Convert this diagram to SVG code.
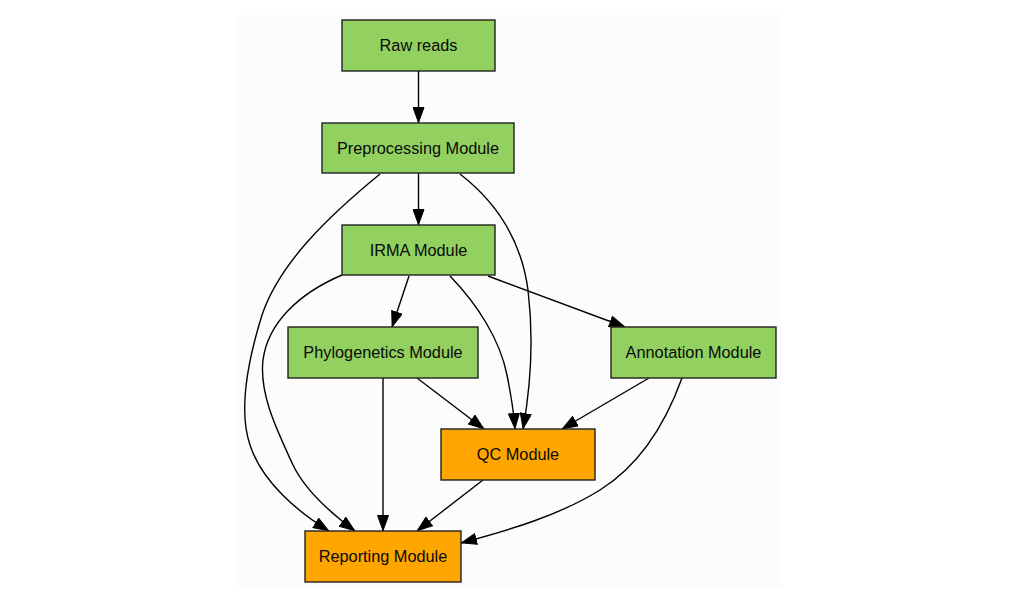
<svg xmlns="http://www.w3.org/2000/svg" width="1018" height="601" viewBox="0 0 1018 601">
<defs>
<marker id="arr" markerUnits="userSpaceOnUse" markerWidth="16" markerHeight="12" viewBox="0 0 16 12" refX="16" refY="6" orient="auto">
<path d="M0.5,0.5 L15.5,6 L0.5,11.5 z" fill="#000" stroke="#000" stroke-width="1"/>
</marker>
</defs>
<style>
.node rect{stroke:#222;stroke-width:1.4}
.g rect{fill:#92d060}
.o rect{fill:#ffa500}
.node text{font-family:"Liberation Sans",Arial,sans-serif;font-size:16.3px;fill:#0a0a0a;text-anchor:middle}
.edges path{fill:none;stroke:#000;stroke-width:1.4;marker-end:url(#arr)}
</style>
<rect x="238" y="15" width="544" height="573" fill="#fcfcfc"/>
<g id="edges" class="edges">
<path d="M418.5,71 L418.5,123"/>
<path d="M418.5,173 L418.5,225"/>
<path d="M380,174 C330,215 280,262 262,315 C248,360 238,410 250,445 C262,482 298,512 329,531"/>
<path d="M460,174 C500,205 522,245 528,290 C534,340 530,390 523,429"/>
<path d="M342,275 C300,293 268,322 263,360 C259,395 278,432 293,465 C306,492 332,514 355,531"/>
<path d="M409,276 L392,327"/>
<path d="M450,276 C478,305 500,340 507,375 C512,400 514,415 515,429"/>
<path d="M488,276 L625,327"/>
<path d="M383,378 L383,531"/>
<path d="M417,378 L484,429"/>
<path d="M649,378 L562,429"/>
<path d="M682,378 C665,425 640,465 600,490 C560,515 510,530 461,543"/>
<path d="M483,480 L417,531"/>
</g>
<g id="raw" class="node g"><rect x="342" y="20" width="153" height="51"/><text x="418.5" y="51">Raw reads</text></g>
<g id="preproc" class="node g"><rect x="322" y="123" width="192" height="50"/><text x="418" y="153.5">Preprocessing Module</text></g>
<g id="irma" class="node g"><rect x="342" y="225" width="153" height="50"/><text x="418.5" y="255.5">IRMA Module</text></g>
<g id="phylo" class="node g"><rect x="288" y="327" width="190" height="51"/><text x="383" y="358">Phylogenetics Module</text></g>
<g id="annot" class="node g"><rect x="611" y="327" width="165" height="51"/><text x="693.5" y="358">Annotation Module</text></g>
<g id="qc" class="node o"><rect x="441" y="429" width="154" height="51"/><text x="518" y="460">QC Module</text></g>
<g id="report" class="node o"><rect x="305" y="531" width="156" height="51"/><text x="383" y="562">Reporting Module</text></g>
</svg>
